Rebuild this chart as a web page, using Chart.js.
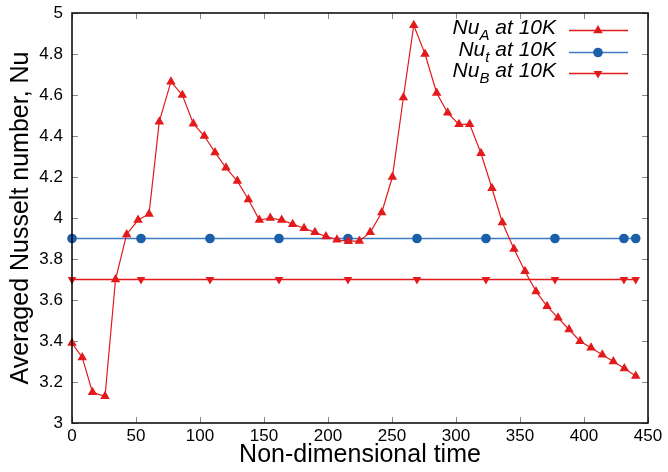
<!DOCTYPE html>
<html>
<head>
<meta charset="utf-8">
<script src="https://cdn.jsdelivr.net/npm/chart.js@4/dist/chart.umd.min.js"></script>
<style>
  html, body { margin: 0; padding: 0; background: #fff; }
  canvas { display: block; }
</style>
</head>
<body>
<canvas id="chart" width="668" height="472"></canvas>
<script>
// values
const timeA = [0, 8, 16, 25.8, 34, 42.7, 51.6, 60.2, 68.2, 77.3, 86.2, 94.8, 103.4, 111.7, 120.3, 129.2,
  137.8, 146.4, 154.9, 163.8, 172.4, 181.3, 189.8, 198.4, 207, 215.9, 224.5, 233, 242, 250.3, 258.9,
  267, 275.8, 284.9, 293.5, 302.3, 310.7, 319.5, 328.1, 336.2, 345.3, 353.9, 362.5, 371.1, 379.7,
  388.3, 396.9, 405.5, 414.3, 422.9, 431.5, 440.4];
const nuA = [3.39, 3.32, 3.15, 3.13, 3.70, 3.92, 3.99, 4.02, 4.47, 4.665, 4.60, 4.46, 4.40, 4.32, 4.245, 4.18,
  4.09, 3.99, 4.0, 3.99, 3.97, 3.95, 3.93, 3.91, 3.894, 3.886, 3.888, 3.93, 4.027, 4.20, 4.588,
  4.94, 4.80, 4.61, 4.513, 4.457, 4.457, 4.316, 4.145, 3.978, 3.849, 3.74, 3.642, 3.57, 3.513,
  3.456, 3.399, 3.367, 3.333, 3.30, 3.266, 3.229];

const timeTB = [0, 53.9, 107.8, 161.7, 215.6, 269.5, 323.4, 377.3, 431.2, 440.4];
const nuT = [3.9, 3.9, 3.9, 3.9, 3.9, 3.9, 3.9, 3.9, 3.9, 3.9];
const nuB = [3.7, 3.7, 3.7, 3.7, 3.7, 3.7, 3.7, 3.7, 3.7, 3.7];

const legendNames = [["Nu", "A", " at 10K"], ["Nu", "t", " at 10K"], ["Nu", "B", " at 10K"]];

const RED = "#e31a1c";
const BLUE_LINE = "#3b7cc4";
const BLUE_DOT = "#1a5fa8";
const FONT = "'Liberation Sans', Arial, Helvetica, sans-serif";

function toPoints(xs, ys) {
  return xs.map((x, i) => ({ x: x, y: ys[i] }));
}

// frame, inward ticks and the legend (gnuplot look)
const framePlugin = {
  id: "frame",
  afterDraw(chart) {
    const ctx = chart.ctx;
    const a = chart.chartArea;
    const xs = chart.scales.x, ys = chart.scales.y;
    ctx.save();
    ctx.strokeStyle = "#888";
    ctx.lineWidth = 1;
    ctx.beginPath();
    xs.ticks.forEach(t => {
      const px = Math.round(xs.getPixelForValue(t.value)) + 0.5;
      ctx.moveTo(px, a.bottom); ctx.lineTo(px, a.bottom - 6);
      ctx.moveTo(px, a.top); ctx.lineTo(px, a.top + 6);
    });
    ys.ticks.forEach(t => {
      const py = Math.round(ys.getPixelForValue(t.value)) + 0.5;
      ctx.moveTo(a.left, py); ctx.lineTo(a.left + 6, py);
      ctx.moveTo(a.right, py); ctx.lineTo(a.right - 6, py);
    });
    ctx.stroke();

    ctx.strokeStyle = "#000";
    ctx.lineWidth = 1.5;
    ctx.strokeRect(a.left, a.top, a.right - a.left, a.bottom - a.top);

    // legend
    const rows = [
      { y: 30, color: RED, dot: RED, style: "up" },
      { y: 52, color: BLUE_LINE, dot: BLUE_DOT, style: "circle" },
      { y: 73, color: RED, dot: RED, style: "down" }
    ];
    const textRight = 556;
    rows.forEach((r, i) => {
      const [main, sub, rest] = legendNames[i];
      const big = "italic 21px " + FONT, small = "italic 15px " + FONT;
      ctx.font = big;
      const w1 = ctx.measureText(main).width;
      const w3 = ctx.measureText(rest).width;
      ctx.font = small;
      const w2 = ctx.measureText(sub).width;
      let x = textRight - (w1 + w2 + w3);
      const base = r.y + 4;
      ctx.fillStyle = "#000";
      ctx.textBaseline = "alphabetic";
      ctx.textAlign = "left";
      ctx.font = big; ctx.fillText(main, x, base); x += w1;
      ctx.font = small; ctx.fillText(sub, x, base + 6); x += w2;
      ctx.font = big; ctx.fillText(rest, x, base);

      ctx.strokeStyle = r.color;
      ctx.lineWidth = 1.3;
      ctx.beginPath();
      ctx.moveTo(569, r.y + 0.5); ctx.lineTo(628, r.y + 0.5);
      ctx.stroke();
      ctx.fillStyle = r.dot;
      const cx = 598, cy = r.y + 0.5;
      ctx.beginPath();
      if (r.style === "circle") {
        ctx.arc(cx, cy, 4.8, 0, Math.PI * 2);
      } else {
        const rad0 = r.style === "up" ? 0 : Math.PI;
        const rr = r.style === "up" ? 5.5 : 5;
        for (let k = 0; k < 3; k++) {
          const ang = rad0 + k * 2 * Math.PI / 3;
          const px = cx + Math.sin(ang) * rr, py = cy - Math.cos(ang) * rr;
          if (k === 0) ctx.moveTo(px, py); else ctx.lineTo(px, py);
        }
        ctx.closePath();
      }
      ctx.fill();
    });
    ctx.restore();
  }
};

new Chart(document.getElementById("chart"), {
  type: "line",
  data: {
    datasets: [
      {
        label: "NuA at 10K",
        data: toPoints(timeA, nuA),
        borderColor: RED,
        borderWidth: 1.2,
        pointStyle: "triangle",
        pointRadius: 5.5,
        pointBackgroundColor: RED,
        pointBorderColor: RED,
        pointBorderWidth: 0,
        tension: 0,
        clip: false
      },
      {
        label: "Nut at 10K",
        data: toPoints(timeTB, nuT),
        borderColor: BLUE_LINE,
        borderWidth: 1.3,
        pointStyle: "circle",
        pointRadius: 4.8,
        pointBackgroundColor: BLUE_DOT,
        pointBorderColor: BLUE_DOT,
        pointBorderWidth: 0,
        tension: 0,
        clip: false
      },
      {
        label: "NuB at 10K",
        data: toPoints(timeTB, nuB),
        borderColor: RED,
        borderWidth: 1.5,
        pointStyle: "triangle",
        rotation: 180,
        pointRotation: 180,
        pointRadius: 5,
        pointBackgroundColor: RED,
        pointBorderColor: RED,
        pointBorderWidth: 0,
        tension: 0,
        clip: false
      }
    ]
  },
  options: {
    responsive: false,
    animation: false,
    devicePixelRatio: 1,
    layout: { padding: { top: 13, right: 20, left: 0, bottom: 0 } },
    plugins: { legend: { display: false }, tooltip: { enabled: false } },
    scales: {
      x: {
        type: "linear",
        min: 0,
        max: 450,
        grid: { display: false, drawTicks: false },
        border: { display: false },
        ticks: { stepSize: 50, color: "#000", padding: 3, maxRotation: 0, font: { family: FONT, size: 17 } },
        title: {
          display: true,
          text: "Non-dimensional time",
          color: "#000",
          font: { family: FONT, size: 25 },
          padding: { top: 0, bottom: 2 }
        },
        afterFit: s => { s.height = 49; s.paddingLeft = 0; s.paddingRight = 0; }
      },
      y: {
        min: 3,
        max: 5,
        grid: { display: false, drawTicks: false },
        border: { display: false },
        ticks: {
          stepSize: 0.2,
          color: "#000",
          padding: 9,
          font: { family: FONT, size: 17 },
          callback: v => String(Number(v.toFixed(1)))
        },
        title: {
          display: true,
          text: "Averaged Nusselt number, Nu",
          color: "#000",
          font: { family: FONT, size: 25 },
          padding: { top: 6, bottom: 0 }
        },
        afterFit: s => { s.width = 72; s.paddingTop = 0; s.paddingBottom = 0; }
      }
    }
  },
  plugins: [framePlugin]
});
</script>
</body>
</html>
